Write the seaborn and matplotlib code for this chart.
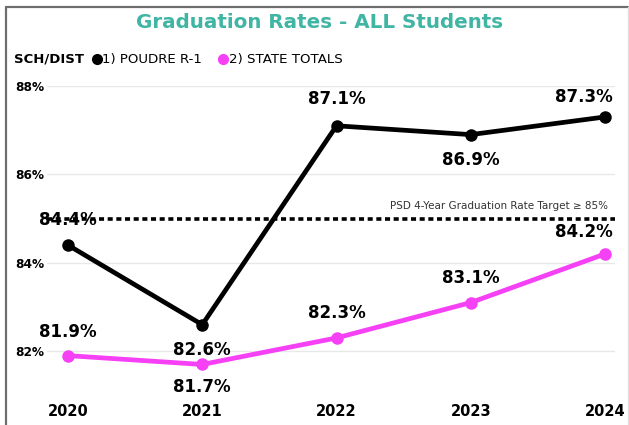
import matplotlib
matplotlib.use("Agg")
import matplotlib.pyplot as plt
import seaborn as sns
import pandas as pd
from matplotlib.lines import Line2D

years = [2020, 2021, 2022, 2023, 2024]
poudre = [84.4, 82.6, 87.1, 86.9, 87.3]
state = [81.9, 81.7, 82.3, 83.1, 84.2]
series_names = ["1) POUDRE R-1", "2) STATE TOTALS"]
yticks = [82, 84, 86, 88]
target = 85
target_label = "PSD 4-Year Graduation Rate Target \u2265 85%"
title = "Graduation Rates - ALL Students"

sns.set_theme(style="white")
plt.rcParams['font.family'] = ['DejaVu Sans']
plt.rcParams['text.color'] = 'black'
plt.rcParams['xtick.color'] = 'black'
plt.rcParams['ytick.color'] = 'black'

W, H = 629, 425
fig = plt.figure(figsize=(W / 100, H / 100), dpi=100)
fig.patch.set_facecolor("white")

# axes placement in pixels
ax_l, ax_r, ax_t, ax_b = 47, 615, 86, 395.4
ax = fig.add_axes([ax_l / W, 1 - ax_b / H, (ax_r - ax_l) / W, (ax_b - ax_t) / H])

df = pd.DataFrame({
    "year": years * 2,
    "rate": poudre + state,
    "series": [series_names[0]] * len(years) + [series_names[1]] * len(years),
})
palette = {series_names[0]: "#000000", series_names[1]: "#F540F5"}
sns.lineplot(data=df, x="year", y="rate", hue="series", palette=palette,
             marker="o", markersize=9, linewidth=3.4, markeredgewidth=0,
             legend=False, ax=ax)

px_per_year = (605 - 68) / 4
x0 = 2020 - (68 - ax_l) / px_per_year
x1 = 2024 + (ax_r - 605) / px_per_year
ax.set_xlim(x0, x1)
ax.set_ylim(81.0, 88.0)

ax.set_yticks(yticks)
ax.set_yticklabels([f"{v}%" for v in yticks], fontsize=8.7, fontweight="bold")
ax.set_xticks(years)
ax.set_xticklabels([str(y) for y in years], fontsize=10.5, fontweight="bold")
ax.tick_params(axis="x", pad=6, length=0, colors="black")
ax.yaxis.grid(True, color="#e8e8e8", linewidth=1)
ax.set_axisbelow(True)
for s in ax.spines.values():
    s.set_visible(False)
ax.set_xlabel("")
ax.set_ylabel("")
for lbl in ax.get_yticklabels():
    lbl.set_horizontalalignment("left")
ax.tick_params(axis="y", pad=23, length=0, colors="black")

# target line
ax.axhline(target, color="black", linestyle=(0, (1.4, 1.0)), linewidth=2.6, zorder=1)
ax.text(x1 - 0.05, target + 0.18, target_label, ha="right", va="bottom",
        fontsize=7.5, color="#333333")

# data labels (offset in points: positive = above)
p_offsets = [18, -18, 19, -18, 14.5]
s_offsets = [17, -16, 18, 18, 16]
x_shift = [0, 0, 0, 0, -15]
for x, v, o, dx in zip(years, poudre, p_offsets, x_shift):
    ax.annotate(f"{v}%", (x, v), xytext=(dx, o), textcoords="offset points",
                ha="center", va="center", fontsize=12, fontweight="bold", color="black")
for x, v, o, dx in zip(years, state, s_offsets, x_shift):
    ax.annotate(f"{v}%", (x, v), xytext=(dx, o), textcoords="offset points",
                ha="center", va="center", fontsize=12, fontweight="bold", color="black")

# title
fig.text(320 / W, 1 - 23 / H, title, ha="center", va="center",
         fontsize=14.3, fontweight="bold", color="#40B5A3")

# legend row
ly = 1 - 59 / H
fig.text(14 / W, ly, "SCH/DIST", ha="left", va="center", fontsize=9.5, fontweight="bold")
fig.add_artist(Line2D([97 / W], [ly], marker="o", color="#000000", markersize=7,
                      linestyle="none", transform=fig.transFigure))
fig.text(102 / W, ly, series_names[0], ha="left", va="center", fontsize=9.6)
fig.add_artist(Line2D([223 / W], [ly], marker="o", color="#F540F5", markersize=7,
                      linestyle="none", transform=fig.transFigure))
fig.text(229 / W, ly, series_names[1], ha="left", va="center", fontsize=9.6)

# frame border
fig.add_artist(Line2D([6 / W, 628 / W], [1 - 7 / H, 1 - 7 / H], color="#6e6e6e",
                      linewidth=1.6, transform=fig.transFigure))
fig.add_artist(Line2D([6 / W, 6 / W], [0, 1 - 7 / H], color="#6e6e6e",
                      linewidth=1.6, transform=fig.transFigure))
fig.add_artist(Line2D([627.5 / W, 627.5 / W], [0, 1 - 7 / H], color="#e0e0e0",
                      linewidth=1, transform=fig.transFigure))

fig.savefig("out.png", dpi=100)
